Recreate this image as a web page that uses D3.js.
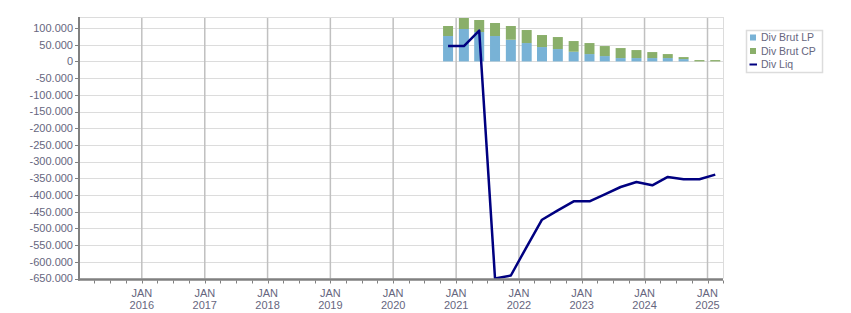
<!DOCTYPE html>
<html>
<head>
<meta charset="utf-8">
<script src="https://cdn.jsdelivr.net/npm/d3@7"></script>
<style>
  body { margin: 0; background: #fff; }
  text { font-family: "Liberation Sans", Arial, sans-serif; }
</style>
</head>
<body>
<div id="chart"></div>
<script>
// mid-quarter dates, Q4 2020 .. Q1 2025
const quarters = ["2020-11-15", "2021-02-15", "2021-05-15", "2021-08-15", "2021-11-15",
  "2022-02-15", "2022-05-15", "2022-08-15", "2022-11-15", "2023-02-15", "2023-05-15",
  "2023-08-15", "2023-11-15", "2024-02-15", "2024-05-15", "2024-08-15", "2024-11-15", "2025-02-15"];
const divBrutLP = [76000, 97000, 88000, 76000, 65000, 55000, 43000, 37000, 29000, 22000,
  16000, 10000, 10000, 10000, 10000, 7000, 0, 0];
const divBrutCP = [30000, 33000, 36000, 39000, 41000, 39000, 36000, 36000, 32000, 33000,
  30000, 30000, 24000, 18000, 12000, 6000, 4000, 4000];
const divLiq = [46000, 46000, 92000, -650000, -641000, -555000, -474000, -446000, -419000,
  -419000, -398000, -376000, -361000, -371000, -346000, -353000, -353000, -339000];
const yTicks = d3.range(-650000, 100001, 50000);
const yearTicks = d3.range(2016, 2026);
const seriesNames = ["Div Brut LP", "Div Brut CP", "Div Liq"];

(function () {
  const width = 851, height = 313;
  const left = 79, right = 723, top = 17, bottom = 278.5;
  const textColor = "#66667e";
  const lpColor = "#78b2d6";
  const cpColor = "#8aaf6a";
  const liqColor = "#000080";

  const parse = d3.timeParse("%Y-%m-%d");
  const dates = quarters.map(parse);
  const fmt = d3.formatLocale({ decimal: ",", thousands: ".", grouping: [3], currency: ["", ""], minus: "-" }).format(",.0f");

  const x = d3.scaleTime()
    .domain([new Date(2015, 0, 1), new Date(2025, 3, 1)])
    .range([left, right]);
  const y = d3.scaleLinear()
    .domain([-650000, 133000])
    .range([bottom, top]);

  const svg = d3.select("#chart").append("svg")
    .attr("width", width)
    .attr("height", height);

  // grid
  svg.append("g").selectAll("line")
    .data(yTicks.filter(v => v > -650000))
    .enter().append("line")
      .attr("x1", left).attr("x2", right)
      .attr("y1", d => Math.round(y(d)) + 0.5).attr("y2", d => Math.round(y(d)) + 0.5)
      .style("stroke", "#dcdcdc");

  svg.append("g").selectAll("line")
    .data(yearTicks)
    .enter().append("line")
      .attr("x1", d => x(new Date(d, 0, 1))).attr("x2", d => x(new Date(d, 0, 1)))
      .attr("y1", top).attr("y2", bottom)
      .style("stroke", "#c0c0c0")
      .style("stroke-width", 1.5);

  svg.append("line")
    .attr("x1", left).attr("x2", right).attr("y1", top + 0.5).attr("y2", top + 0.5)
    .style("stroke", "#dcdcdc");
  svg.append("line")
    .attr("x1", right + 0.5).attr("x2", right + 0.5).attr("y1", top).attr("y2", bottom)
    .style("stroke", "#dcdcdc");

  // stacked bars
  const barW = 10;
  const bars = svg.append("g");
  bars.selectAll("rect.lp")
    .data(dates)
    .enter().append("rect")
      .attr("class", "lp")
      .attr("x", d => x(d) - barW / 2)
      .attr("y", (d, i) => y(divBrutLP[i]))
      .attr("width", barW)
      .attr("height", (d, i) => y(0) - y(divBrutLP[i]))
      .style("fill", lpColor);
  bars.selectAll("rect.cp")
    .data(dates)
    .enter().append("rect")
      .attr("class", "cp")
      .attr("x", d => x(d) - barW / 2)
      .attr("y", (d, i) => y(divBrutLP[i] + divBrutCP[i]))
      .attr("width", barW)
      .attr("height", (d, i) => y(divBrutLP[i]) - y(divBrutLP[i] + divBrutCP[i]))
      .style("fill", cpColor);

  // line
  const line = d3.line()
    .x(d => x(d[0]))
    .y(d => y(d[1]));
  svg.append("path")
    .attr("d", line(dates.map((d, i) => [d, divLiq[i]])))
    .style("fill", "none")
    .style("stroke", liqColor)
    .style("stroke-width", 2.5)
    .style("stroke-linejoin", "round");

  // y axis
  svg.append("line")
    .attr("x1", left).attr("x2", left).attr("y1", top).attr("y2", bottom + 2)
    .style("stroke", "#808080").style("stroke-width", 2);
  const yAxis = svg.append("g");
  yAxis.selectAll("line")
    .data(yTicks)
    .enter().append("line")
      .attr("x1", left - 4).attr("x2", left)
      .attr("y1", d => Math.round(y(d)) + 0.5).attr("y2", d => Math.round(y(d)) + 0.5)
      .style("stroke", "#808080");
  yAxis.selectAll("text")
    .data(yTicks)
    .enter().append("text")
      .attr("x", left - 6)
      .attr("y", d => y(d))
      .attr("dy", "0.35em")
      .attr("text-anchor", "end")
      .style("font-size", "11px")
      .style("fill", textColor)
      .text(d => fmt(d));

  // x axis
  svg.append("line")
    .attr("x1", left - 1).attr("x2", right).attr("y1", bottom + 1).attr("y2", bottom + 1)
    .style("stroke", "#808080").style("stroke-width", 2.5);
  const qTicks = d3.timeMonth.every(3).range(new Date(2015, 3, 1), new Date(2025, 3, 2));
  svg.append("g").selectAll("line")
    .data(qTicks)
    .enter().append("line")
      .attr("x1", d => Math.round(x(d)) + 0.5).attr("x2", d => Math.round(x(d)) + 0.5)
      .attr("y1", bottom + 2).attr("y2", bottom + 5)
      .style("stroke", "#808080");
  const xLabels = svg.append("g").selectAll("text")
    .data(yearTicks)
    .enter().append("text")
      .attr("text-anchor", "middle")
      .style("font-size", "11px")
      .style("fill", textColor);
  xLabels.append("tspan")
    .attr("x", d => x(new Date(d, 0, 1)))
    .attr("y", 296.5)
    .text("JAN");
  xLabels.append("tspan")
    .attr("x", d => x(new Date(d, 0, 1)))
    .attr("y", 309)
    .text(d => d);

  // legend
  const legend = svg.append("g");
  legend.append("rect")
    .attr("x", 746.5).attr("y", 30.5).attr("width", 76).attr("height", 42)
    .style("fill", "#fff").style("stroke", "#dcdcdc").style("stroke-width", 1.5);
  const rowY = [37.5, 51, 64.5];
  [lpColor, cpColor].forEach((c, i) => {
    legend.append("rect")
      .attr("x", 750).attr("y", rowY[i] - 3).attr("width", 6).attr("height", 6)
      .style("fill", c);
  });
  legend.append("line")
    .attr("x1", 749.5).attr("x2", 757).attr("y1", rowY[2]).attr("y2", rowY[2])
    .style("stroke", liqColor).style("stroke-width", 2);
  legend.selectAll("text")
    .data(seriesNames)
    .enter().append("text")
      .attr("x", 761)
      .attr("y", (d, i) => rowY[i])
      .attr("dy", "0.35em")
      .style("font-size", "10.5px")
      .style("fill", textColor)
      .text(d => d);
})();
</script>
</body>
</html>
